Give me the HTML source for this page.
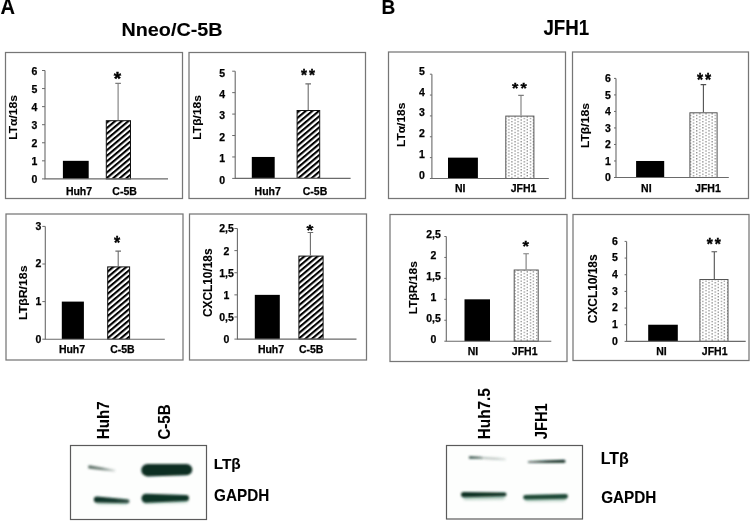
<!DOCTYPE html>
<html><head><meta charset="utf-8"><title>LTα, LTβ, LTβR and CXCL10 expression – Nneo/C-5B and JFH1</title><style>
html,body{margin:0;padding:0;background:#fff;width:750px;height:521px;overflow:hidden}
svg{display:block;font-family:"Liberation Sans", Arial, sans-serif;font-weight:bold;fill:#000}
.tk,.xl{font-size:10.5px;stroke:#000;stroke-width:0.25px}.st{stroke:#000;stroke-width:0.35px;stroke-linejoin:miter}.ft{stroke:#000;stroke-width:0.1px}
</style></head><body>
<svg width="750" height="521" viewBox="0 0 750 521">
<defs>
<pattern id="hatch" patternUnits="userSpaceOnUse" width="12" height="4.25" patternTransform="rotate(-40)"><rect x="0" y="0" width="12" height="2.1" fill="#000"/></pattern>
<pattern id="dots" patternUnits="userSpaceOnUse" width="6.16" height="3.1"><rect x="0" y="0" width="1.3" height="1.3" fill="#8a8a8a"/><rect x="3.08" y="1.55" width="1.3" height="1.3" fill="#8a8a8a"/></pattern>
<filter id="bl" x="-10%" y="-80%" width="120%" height="260%"><feGaussianBlur stdDeviation="0.9"/></filter>
<filter id="bl2" x="-10%" y="-80%" width="120%" height="260%"><feGaussianBlur stdDeviation="1.6"/></filter>
</defs>
<rect width="750" height="521" fill="#fff"/>
<g>
<rect x="5.5" y="52.5" width="177.0" height="146.0" fill="none" stroke="#767676" stroke-width="1.25"/>
<rect x="62.9" y="160.83" width="25.80" height="18.07" fill="#000"/>
<rect x="106.3" y="120.70" width="24.20" height="58.20" fill="url(#hatch)" stroke="#111" stroke-width="1"/>
<path d="M118.1 120.20V83.4M115.3 83.4H120.89999999999999" stroke="#7c7c7c" stroke-width="1.1" fill="none"/>
<path d="M45 70.5V178.9H168" stroke="#6a6a6a" stroke-width="1.1" fill="none"/>
<path d="M42 178.90H45M42 160.83H45M42 142.77H45M42 124.70H45M42 106.63H45M42 88.57H45M42 70.50H45" stroke="#6a6a6a" stroke-width="1" fill="none"/>
<text x="34.3" y="183.15" text-anchor="middle" class="tk">0</text>
<text x="34.3" y="165.08" text-anchor="middle" class="tk">1</text>
<text x="34.3" y="147.02" text-anchor="middle" class="tk">2</text>
<text x="34.3" y="128.95" text-anchor="middle" class="tk">3</text>
<text x="34.3" y="110.88" text-anchor="middle" class="tk">4</text>
<text x="34.3" y="92.82" text-anchor="middle" class="tk">5</text>
<text x="34.3" y="74.75" text-anchor="middle" class="tk">6</text>
<text x="79" y="194.6" text-anchor="middle" class="xl">Huh7</text>
<text x="124.6" y="194.6" text-anchor="middle" class="xl">C-5B</text>
</g>
<g>
<rect x="189" y="52.5" width="176.5" height="146.0" fill="none" stroke="#767676" stroke-width="1.25"/>
<rect x="251.8" y="156.96" width="22.90" height="21.44" fill="#000"/>
<rect x="297.1" y="110.50" width="22.60" height="67.90" fill="url(#hatch)" stroke="#111" stroke-width="1"/>
<path d="M308.2 110.00V83.9M305.4 83.9H311.0" stroke="#6c6c6c" stroke-width="1.1" fill="none"/>
<path d="M235.2 71.2V178.4H350.6" stroke="#6a6a6a" stroke-width="1.1" fill="none"/>
<path d="M232.2 178.40H235.2M232.2 156.96H235.2M232.2 135.52H235.2M232.2 114.08H235.2M232.2 92.64H235.2M232.2 71.20H235.2" stroke="#6a6a6a" stroke-width="1" fill="none"/>
<text x="222.2" y="183.75" text-anchor="middle" class="tk">0</text>
<text x="222.2" y="162.31" text-anchor="middle" class="tk">1</text>
<text x="222.2" y="140.87" text-anchor="middle" class="tk">2</text>
<text x="222.2" y="119.43" text-anchor="middle" class="tk">3</text>
<text x="222.2" y="97.99" text-anchor="middle" class="tk">4</text>
<text x="222.2" y="76.55" text-anchor="middle" class="tk">5</text>
<text x="267.7" y="194.8" text-anchor="middle" class="xl">Huh7</text>
<text x="315" y="194.8" text-anchor="middle" class="xl">C-5B</text>
</g>
<g>
<rect x="6" y="214" width="177" height="146" fill="none" stroke="#767676" stroke-width="1.25"/>
<rect x="61.8" y="301.60" width="22.10" height="37.60" fill="#000"/>
<rect x="107.7" y="266.90" width="21.90" height="72.30" fill="url(#hatch)" stroke="#111" stroke-width="1"/>
<path d="M118.2 266.40V251.1M115.4 251.1H121.0" stroke="#6c6c6c" stroke-width="1.1" fill="none"/>
<path d="M45.3 226.4V339.2H164.8" stroke="#6a6a6a" stroke-width="1.1" fill="none"/>
<path d="M42.3 339.20H45.3M42.3 301.60H45.3M42.3 264.00H45.3M42.3 226.40H45.3" stroke="#6a6a6a" stroke-width="1" fill="none"/>
<text x="38.4" y="342.65" text-anchor="middle" class="tk">0</text>
<text x="38.4" y="305.05" text-anchor="middle" class="tk">1</text>
<text x="38.4" y="267.45" text-anchor="middle" class="tk">2</text>
<text x="38.4" y="229.85" text-anchor="middle" class="tk">3</text>
<text x="72" y="352.7" text-anchor="middle" class="xl">Huh7</text>
<text x="122.4" y="352.7" text-anchor="middle" class="xl">C-5B</text>
</g>
<g>
<rect x="189.5" y="214" width="177.0" height="146" fill="none" stroke="#767676" stroke-width="1.25"/>
<rect x="254.8" y="294.86" width="25.00" height="44.24" fill="#000"/>
<rect x="298.9" y="256.10" width="24.20" height="83.00" fill="url(#hatch)" stroke="#111" stroke-width="1"/>
<path d="M310.4 255.60V232.5M307.59999999999997 232.5H313.2" stroke="#6c6c6c" stroke-width="1.1" fill="none"/>
<path d="M237.4 228.5V339.1H356.5" stroke="#6a6a6a" stroke-width="1.1" fill="none"/>
<path d="M234.4 339.10H237.4M234.4 316.98H237.4M234.4 294.86H237.4M234.4 272.74H237.4M234.4 250.62H237.4M234.4 228.50H237.4" stroke="#6a6a6a" stroke-width="1" fill="none"/>
<text x="226.5" y="343.05" text-anchor="middle" class="tk">0</text>
<text x="226.5" y="320.93" text-anchor="middle" class="tk">0,5</text>
<text x="226.5" y="298.81" text-anchor="middle" class="tk">1</text>
<text x="226.5" y="276.69" text-anchor="middle" class="tk">1,5</text>
<text x="226.5" y="254.57" text-anchor="middle" class="tk">2</text>
<text x="226.5" y="232.45" text-anchor="middle" class="tk">2,5</text>
<text x="271" y="353" text-anchor="middle" class="xl">Huh7</text>
<text x="311.2" y="353" text-anchor="middle" class="xl">C-5B</text>
</g>
<g>
<rect x="388.5" y="52" width="177.0" height="146.5" fill="none" stroke="#767676" stroke-width="1.25"/>
<rect x="448" y="157.64" width="29.90" height="20.86" fill="#000"/>
<rect x="505.8" y="116.10" width="28.10" height="62.40" fill="url(#dots)" stroke="#555" stroke-width="1"/>
<path d="M521 115.60V95.4M518.2 95.4H523.8" stroke="#7c7c7c" stroke-width="1.1" fill="none"/>
<path d="M431.9 74.2V178.5H548.8" stroke="#6a6a6a" stroke-width="1.1" fill="none"/>
<path d="M429.9 178.50H431.9M429.9 157.64H431.9M429.9 136.78H431.9M429.9 115.92H431.9M429.9 95.06H431.9M429.9 74.20H431.9" stroke="#6a6a6a" stroke-width="1" fill="none"/>
<text x="421.8" y="178.95" text-anchor="middle" class="tk">0</text>
<text x="421.8" y="158.09" text-anchor="middle" class="tk">1</text>
<text x="421.8" y="137.23" text-anchor="middle" class="tk">2</text>
<text x="421.8" y="116.37" text-anchor="middle" class="tk">3</text>
<text x="421.8" y="95.51" text-anchor="middle" class="tk">4</text>
<text x="421.8" y="74.65" text-anchor="middle" class="tk">5</text>
<text x="460.2" y="191.6" text-anchor="middle" class="xl">NI</text>
<text x="523.6" y="191.6" text-anchor="middle" class="xl">JFH1</text>
</g>
<g>
<rect x="572.5" y="52" width="176.0" height="146.5" fill="none" stroke="#767676" stroke-width="1.25"/>
<rect x="636.1" y="160.98" width="28.10" height="16.52" fill="#000"/>
<rect x="689.9" y="112.80" width="27.20" height="64.70" fill="url(#dots)" stroke="#555" stroke-width="1"/>
<path d="M703.4 112.30V84.6M700.6 84.6H706.1999999999999" stroke="#505050" stroke-width="1.1" fill="none"/>
<path d="M616 78.4V177.5H728.8" stroke="#6a6a6a" stroke-width="1.1" fill="none"/>
<path d="M614 177.50H616M614 160.98H616M614 144.47H616M614 127.95H616M614 111.43H616M614 94.92H616M614 78.40H616" stroke="#6a6a6a" stroke-width="1" fill="none"/>
<text x="607.9" y="181.25" text-anchor="middle" class="tk">0</text>
<text x="607.9" y="164.73" text-anchor="middle" class="tk">1</text>
<text x="607.9" y="148.22" text-anchor="middle" class="tk">2</text>
<text x="607.9" y="131.70" text-anchor="middle" class="tk">3</text>
<text x="607.9" y="115.18" text-anchor="middle" class="tk">4</text>
<text x="607.9" y="98.67" text-anchor="middle" class="tk">5</text>
<text x="607.9" y="82.15" text-anchor="middle" class="tk">6</text>
<text x="646.3" y="191.8" text-anchor="middle" class="xl">NI</text>
<text x="707.9" y="191.8" text-anchor="middle" class="xl">JFH1</text>
</g>
<g>
<rect x="390" y="214.5" width="177" height="147.0" fill="none" stroke="#767676" stroke-width="1.25"/>
<rect x="464.5" y="299.32" width="25.50" height="41.88" fill="#000"/>
<rect x="514.2" y="270.00" width="24.00" height="71.20" fill="url(#dots)" stroke="#555" stroke-width="1"/>
<path d="M526.1 269.50V253.7M523.3000000000001 253.7H528.9" stroke="#7c7c7c" stroke-width="1.1" fill="none"/>
<path d="M446.3 236.5V341.2H551.3" stroke="#6a6a6a" stroke-width="1.1" fill="none"/>
<path d="M444.3 341.20H446.3M444.3 320.26H446.3M444.3 299.32H446.3M444.3 278.38H446.3M444.3 257.44H446.3M444.3 236.50H446.3" stroke="#6a6a6a" stroke-width="1" fill="none"/>
<text x="433.5" y="342.55" text-anchor="middle" class="tk">0</text>
<text x="433.5" y="321.61" text-anchor="middle" class="tk">0,5</text>
<text x="433.5" y="300.67" text-anchor="middle" class="tk">1</text>
<text x="433.5" y="279.73" text-anchor="middle" class="tk">1,5</text>
<text x="433.5" y="258.79" text-anchor="middle" class="tk">2</text>
<text x="433.5" y="237.85" text-anchor="middle" class="tk">2,5</text>
<text x="473" y="355.4" text-anchor="middle" class="xl">NI</text>
<text x="524.7" y="355.4" text-anchor="middle" class="xl">JFH1</text>
</g>
<g>
<rect x="573" y="214.5" width="176" height="146.0" fill="none" stroke="#767676" stroke-width="1.25"/>
<rect x="648.2" y="324.73" width="29.60" height="16.67" fill="#000"/>
<rect x="699.9" y="279.50" width="28.10" height="61.90" fill="url(#dots)" stroke="#555" stroke-width="1"/>
<path d="M714.3 279.00V251.8M711.5 251.8H717.0999999999999" stroke="#505050" stroke-width="1.1" fill="none"/>
<path d="M626.6 241.4V341.4H745.7" stroke="#6a6a6a" stroke-width="1.1" fill="none"/>
<path d="M624.6 341.40H626.6M624.6 324.73H626.6M624.6 308.07H626.6M624.6 291.40H626.6M624.6 274.73H626.6M624.6 258.07H626.6M624.6 241.40H626.6" stroke="#6a6a6a" stroke-width="1" fill="none"/>
<text x="614.8" y="344.75" text-anchor="middle" class="tk">0</text>
<text x="614.8" y="328.08" text-anchor="middle" class="tk">1</text>
<text x="614.8" y="311.42" text-anchor="middle" class="tk">2</text>
<text x="614.8" y="294.75" text-anchor="middle" class="tk">3</text>
<text x="614.8" y="278.08" text-anchor="middle" class="tk">4</text>
<text x="614.8" y="261.42" text-anchor="middle" class="tk">5</text>
<text x="614.8" y="244.75" text-anchor="middle" class="tk">6</text>
<text x="661.4" y="355.1" text-anchor="middle" class="xl">NI</text>
<text x="714.7" y="355.1" text-anchor="middle" class="xl">JFH1</text>
</g>
<text transform="translate(0.40,14.20) scale(1.0038,1.0691)" font-size="20" class="ft">A</text>
<text transform="translate(381.51,14.20) scale(0.9551,1.0109)" font-size="20" class="ft">B</text>
<text transform="translate(121.50,36.07) scale(1.0411,0.9214)" font-size="19" class="ft">Nneo/C-5B</text>
<text transform="translate(543.45,35.12) scale(0.9858,1.1245)" font-size="19" class="ft">JFH1</text>
<text transform="translate(16.98,139.86) rotate(-90) scale(1.0104,0.8889)" font-size="12" class="ft">LTα/18s</text>
<text transform="translate(200.98,139.65) rotate(-90) scale(1.0058,0.8889)" font-size="12" class="ft">LTβ/18s</text>
<text transform="translate(27.27,319.97) rotate(-90) scale(1.0261,0.9000)" font-size="12" class="ft">LTβR/18s</text>
<text transform="translate(211.74,317.10) rotate(-90) scale(0.9905,1.0444)" font-size="12" class="ft">CXCL10/18s</text>
<text transform="translate(405.38,146.95) rotate(-90) scale(0.9965,0.9000)" font-size="12" class="ft">LTα/18s</text>
<text transform="translate(588.77,148.06) rotate(-90) scale(1.0127,0.9000)" font-size="12" class="ft">LTβ/18s</text>
<text transform="translate(417.47,314.25) rotate(-90) scale(1.0010,0.9333)" font-size="12" class="ft">LTβR/18s</text>
<text transform="translate(596.65,323.20) rotate(-90) scale(0.9919,1.0111)" font-size="12" class="ft">CXCL10/18s</text>
<text transform="translate(113.80,85.31) scale(1.1840,1.1833)" font-size="16" class="st">*</text>
<text transform="translate(301.00,81.20) scale(0.9655,1.0667)" font-size="16" letter-spacing="2" class="st">**</text>
<text transform="translate(113.90,249.12) scale(0.9920,1.1667)" font-size="16" class="st">*</text>
<text transform="translate(306.40,234.59) scale(1.1040,0.9500)" font-size="16" class="st">*</text>
<text transform="translate(512.00,92.89) scale(1.0207,0.9500)" font-size="16" letter-spacing="2" class="st">**</text>
<text transform="translate(696.90,85.66) scale(0.9793,1.1167)" font-size="16" letter-spacing="2" class="st">**</text>
<text transform="translate(522.60,250.59) scale(1.0400,0.9500)" font-size="16" class="st">*</text>
<text transform="translate(706.70,249.69) scale(0.9793,1.0833)" font-size="16" letter-spacing="2" class="st">**</text>
<text transform="translate(213.78,469.09) scale(1.0222,1.0222)" font-size="15" class="ft">LTβ</text>
<text transform="translate(214.04,500.70) scale(1.0190,1.0732)" font-size="15" class="ft">GAPDH</text>
<text transform="translate(600.84,464.48) scale(1.0586,1.0586)" font-size="15" class="ft">LTβ</text>
<text transform="translate(601.13,503.00) scale(1.0210,1.0927)" font-size="15" class="ft">GAPDH</text>
<text transform="translate(108.60,439.21) rotate(-90) scale(1.0070,1.1163)" font-size="15" class="ft">Huh7</text>
<text transform="translate(169.80,439.55) rotate(-90) scale(1.0030,1.1122)" font-size="15" class="ft">C-5B</text>
<text transform="translate(490.00,439.22) rotate(-90) scale(1.0206,1.0698)" font-size="15" class="ft">Huh7.5</text>
<text transform="translate(547.40,439.14) rotate(-90) scale(0.9750,1.0634)" font-size="15" class="ft">JFH1</text>
<rect x="70.5" y="445.5" width="136" height="74" fill="#fdfefd" stroke="#5a5a5a" stroke-width="1.2"/>
<linearGradient id="g1" x1="0" x2="1" y1="0" y2="0"><stop offset="0" stop-color="#44594f" stop-opacity="0.85"/><stop offset="0.5" stop-color="#44594f" stop-opacity="0.7"/><stop offset="1" stop-color="#44594f" stop-opacity="0.15"/></linearGradient>
<path d="M89.80 465.20L114.40 469.50A1.10 1.10 0 0 1 114.40 471.70L89.80 468.80A1.80 1.80 0 0 1 89.80 465.20Z" fill="url(#g1)" filter="url(#bl)"/>
<path d="M147.50 464.00L186.70 464.00A5.60 5.60 0 0 1 186.70 475.20L147.50 476.40A6.20 6.20 0 0 1 147.50 464.00Z" fill="#0b2e22" filter="url(#bl)"/>
<path d="M98.60 499.20L126.00 500.40A2.00 2.00 0 0 1 126.00 504.40L98.60 504.40A2.60 2.60 0 0 1 98.60 499.20Z" fill="#4d8a6c" filter="url(#bl2)" opacity="0.35"/>
<linearGradient id="g2" x1="0" x2="1" y1="0" y2="0"><stop offset="0" stop-color="#0e3326" stop-opacity="1"/><stop offset="0.6" stop-color="#0e3326" stop-opacity="0.95"/><stop offset="1" stop-color="#0e3326" stop-opacity="0.8"/></linearGradient>
<path d="M96.90 496.40L127.50 499.20A2.00 2.00 0 0 1 127.50 503.20L96.90 502.60A3.10 3.10 0 0 1 96.90 496.40Z" fill="url(#g2)" filter="url(#bl)"/>
<path d="M146.50 497.00L185.50 498.00A2.50 2.50 0 0 1 185.50 503.00L146.50 504.00A3.50 3.50 0 0 1 146.50 497.00Z" fill="#4d8a6c" filter="url(#bl2)" opacity="0.35"/>
<path d="M146.00 493.80L186.00 495.00A3.00 3.00 0 0 1 186.00 501.00L146.00 502.80A4.50 4.50 0 0 1 146.00 493.80Z" fill="#0e3527" filter="url(#bl)"/>
<rect x="446.5" y="445.5" width="136" height="73.5" fill="#fdfefd" stroke="#5a5a5a" stroke-width="1.2"/>
<linearGradient id="g3" x1="0" x2="1" y1="0" y2="0"><stop offset="0" stop-color="#27453b" stop-opacity="0.95"/><stop offset="0.7" stop-color="#27453b" stop-opacity="0.8"/><stop offset="1" stop-color="#27453b" stop-opacity="0.3"/></linearGradient>
<path d="M470.05 456.15L481.50 456.70A1.00 1.00 0 0 1 481.50 458.70L470.05 458.65A1.25 1.25 0 0 1 470.05 456.15Z" fill="url(#g3)" filter="url(#bl)"/>
<linearGradient id="g4" x1="0" x2="1" y1="0" y2="0"><stop offset="0" stop-color="#3f5a50" stop-opacity="0.35"/><stop offset="0.6" stop-color="#3f5a50" stop-opacity="0.3"/><stop offset="1" stop-color="#3f5a50" stop-opacity="0.12"/></linearGradient>
<path d="M481.20 456.70L504.80 458.00A1.20 1.20 0 0 1 504.80 460.40L481.20 459.10A1.20 1.20 0 0 1 481.20 456.70Z" fill="url(#g4)" filter="url(#bl)"/>
<linearGradient id="g5" x1="0" x2="1" y1="0" y2="0"><stop offset="0" stop-color="#0c2c22" stop-opacity="0.55"/><stop offset="0.5" stop-color="#0c2c22" stop-opacity="0.95"/><stop offset="1" stop-color="#0c2c22" stop-opacity="1"/></linearGradient>
<path d="M528.80 460.90L564.00 459.70A1.50 1.50 0 0 1 564.00 462.70L528.80 462.90A1.00 1.00 0 0 1 528.80 460.90Z" fill="url(#g5)" filter="url(#bl)"/>
<path d="M465.60 494.70L502.80 495.10A2.20 2.20 0 0 1 502.80 499.50L465.60 499.90A2.60 2.60 0 0 1 465.60 494.70Z" fill="#4d8a6c" filter="url(#bl2)" opacity="0.4"/>
<path d="M463.60 492.00L504.60 492.40A1.90 1.90 0 0 1 504.60 496.20L463.60 497.20A2.60 2.60 0 0 1 463.60 492.00Z" fill="#0c3124" filter="url(#bl)"/>
<path d="M527.60 496.40L563.40 496.00A2.60 2.60 0 0 1 563.40 501.20L527.60 501.60A2.60 2.60 0 0 1 527.60 496.40Z" fill="#4d8a6c" filter="url(#bl2)" opacity="0.4"/>
<path d="M525.40 495.10L565.60 493.90A2.40 2.40 0 0 1 565.60 498.70L525.40 499.50A2.20 2.20 0 0 1 525.40 495.10Z" fill="#1b4735" filter="url(#bl)"/>
</svg></body></html>
